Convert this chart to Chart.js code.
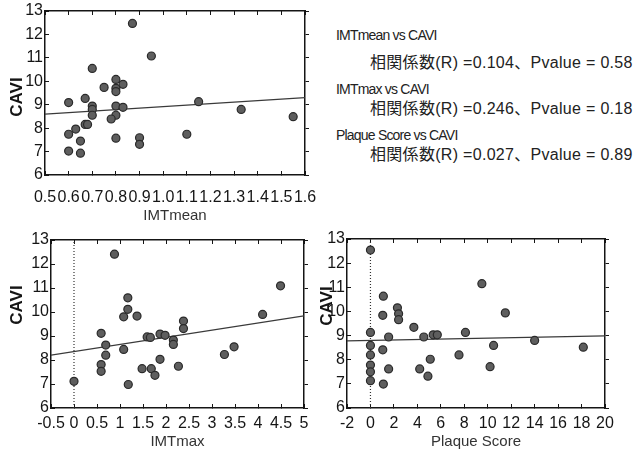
<!DOCTYPE html>
<html>
<head>
<meta charset="utf-8">
<script src="https://cdn.jsdelivr.net/npm/chart.js@4.4.1/dist/chart.umd.min.js"></script>
<style>
  body { margin: 0; background: #fff; }
  .box { position: absolute; }
  .note { position: absolute; white-space: nowrap; color: #222; line-height: 20px;
          font-family: "Liberation Sans", "Noto Sans CJK JP", sans-serif; }
  .head { font-size: 14px; letter-spacing: -0.8px; }
  .stat { font-size: 16px; letter-spacing: 0.3px; }
</style>
</head>
<body>
<div class="box" style="left:0;top:0"><canvas id="meanChart" width="320" height="230"></canvas></div>
<div class="box" style="left:0;top:228px"><canvas id="maxChart" width="320" height="229"></canvas></div>
<div class="box" style="left:310px;top:228px"><canvas id="plaqueChart" width="326" height="229"></canvas></div>

<div class="note head" style="left:336px;top:25px">IMTmean vs CAVI</div>
<div class="note stat" style="left:370px;top:53px">相関係数(R) =0.104、Pvalue = 0.58</div>
<div class="note head" style="left:336px;top:79px">IMTmax vs CAVI</div>
<div class="note stat" style="left:370px;top:99px">相関係数(R) =0.246、Pvalue = 0.18</div>
<div class="note head" style="left:336px;top:125px">Plaque Score vs CAVI</div>
<div class="note stat" style="left:370px;top:145px">相関係数(R) =0.027、Pvalue = 0.89</div>

<script>
// IMTmean vs CAVI
var imtMean = [0.87, 0.95, 0.70, 0.80, 0.75, 0.83, 0.80, 0.80, 0.67, 0.60, 1.15, 0.70, 0.70, 0.80, 0.83, 1.33,
  0.70, 0.80, 0.78, 1.55, 0.67, 0.68, 0.63, 0.60, 1.10, 0.80, 0.90, 0.90, 0.65, 0.60, 0.65];
var caviMean = [12.47, 11.08, 10.55, 10.08, 9.74, 9.87, 9.70, 9.56, 9.27, 9.09, 9.13, 8.94, 8.80, 8.94, 8.89, 8.80,
  8.55, 8.55, 8.39, 8.49, 8.16, 8.16, 7.96, 7.74, 7.74, 7.57, 7.59, 7.31, 7.45, 7.02, 6.93];
var fitMeanX = [0.5, 1.6];
var fitMeanY = [8.60, 9.30];

// IMTmax vs CAVI
var imtMax = [0.88, 4.49, 1.17, 1.17, 1.08, 1.37, 4.10, 2.38, 2.38, 0.59, 1.59, 1.66, 1.87, 1.98, 2.16,
  2.16, 0.69, 3.48, 1.08, 0.69, 3.27, 1.87, 0.59, 2.27, 1.48, 1.68, 0.59, 1.76, 0.0, 1.18];
var caviMax = [12.41, 11.09, 10.59, 10.11, 9.80, 9.83, 9.90, 9.62, 9.31, 9.11, 8.96, 8.94, 9.08, 9.03, 8.83,
  8.65, 8.62, 8.55, 8.44, 8.20, 8.23, 8.03, 7.81, 7.74, 7.64, 7.64, 7.53, 7.36, 7.11, 6.98];
var fitMaxX = [-0.5, 5];
var fitMaxY = [8.20, 9.84];

// Plaque Score vs CAVI
var plaque = [0, 9.5, 1.1, 2.3, 2.4, 2.4, 1.05, 11.5, 3.7, 0, 8.1, 1.55, 4.55, 5.35, 5.7, 14.0,
  0, 10.5, 18.15, 1.05, 0, 7.55, 5.1, 0, 10.2, 1.55, 4.2, 0, 4.9, 0, 1.1];
var caviPlaque = [12.54, 11.15, 10.63, 10.15, 9.90, 9.66, 9.84, 9.94, 9.34, 9.13, 9.13, 8.94, 8.94, 9.03, 9.03, 8.80,
  8.59, 8.59, 8.52, 8.41, 8.20, 8.20, 8.02, 7.78, 7.71, 7.62, 7.62, 7.50, 7.32, 7.13, 6.99];
var fitPlaqueX = [-2, 20];
var fitPlaqueY = [8.78, 8.99];

// dotted reference line at x = 0
var zeroX = [0, 0];
var zeroY = [6, 13];

// ticks
var caviTicks = [6, 7, 8, 9, 10, 11, 12, 13];
var meanTicks = [0.5, 0.6, 0.7, 0.8, 0.9, 1.0, 1.1, 1.2, 1.3, 1.4, 1.5, 1.6];
var meanLabels = ['0.5', '0.6', '0.7', '0.8', '0.9', '1.0', '1.1', '1.2', '1.3', '1.4', '1.5', '1.6'];
var maxTicks = [-0.5, 0, 0.5, 1, 1.5, 2, 2.5, 3, 3.5, 4, 4.5, 5];
var maxLabels = ['-0.5', '0', '0.5', '1', '1.5', '2', '2.5', '3', '3.5', '4', '4.5', '5'];
var plaqueTicks = [-2, 0, 2, 4, 6, 8, 10, 12, 14, 16, 18, 20];
var plaqueLabels = ['-2', '0', '2', '4', '6', '8', '10', '12', '14', '16', '18', '20'];

var FONT = '"Liberation Sans", Arial, sans-serif';
var INK = '#151515';

function pairs(xs, ys) {
  return xs.map(function (x, i) { return {x: x, y: ys[i]}; });
}

// rotated "CAVI" label placed where the scan has it
var sideTitle = {
  id: 'sideTitle',
  afterDraw: function (chart, args, opts) {
    var ctx = chart.ctx;
    ctx.save();
    ctx.translate(opts.x, opts.y);
    ctx.rotate(-Math.PI / 2);
    ctx.font = 'bold 17px ' + FONT;
    ctx.fillStyle = INK;
    ctx.textAlign = 'center';
    ctx.textBaseline = 'middle';
    ctx.fillText(opts.text, 0, 0);
    ctx.restore();
  }
};

function makeChart(id, c) {
  var datasets = [{
    data: pairs(c.xs, c.ys),
    pointRadius: 4,
    pointBackgroundColor: '#5e5e5e',
    pointBorderColor: '#2a2a2a',
    pointBorderWidth: 1.2
  }, {
    data: pairs(c.fitX, c.fitY),
    showLine: true,
    pointRadius: 0,
    borderColor: '#3a3a3a',
    borderWidth: 1.2
  }];
  if (c.zero) {
    datasets.push({
      data: pairs(zeroX, zeroY),
      showLine: true,
      pointRadius: 0,
      borderColor: '#333',
      borderWidth: 1.2,
      borderDash: [1, 2]
    });
  }
  var setTicks = function (list) {
    return function (scale) { scale.ticks = list.map(function (v) { return {value: v}; }); };
  };
  // fixed axis sizes, and no extra inset for labels hanging past the ends
  var fixX = function (h) {
    return function (s) { s.height = h; s.paddingLeft = 0; s.paddingRight = 0; };
  };
  var fixY = function (w) {
    return function (s) { s.width = w; s.paddingTop = 0; s.paddingBottom = 0; };
  };
  return new Chart(document.getElementById(id), {
    type: 'scatter',
    data: {datasets: datasets},
    plugins: [sideTitle],
    options: {
      responsive: false,
      animation: false,
      layout: {padding: c.pad},
      plugins: {
        legend: {display: false},
        tooltip: {enabled: false},
        sideTitle: {text: 'CAVI', x: c.titleX, y: c.titleY}
      },
      scales: {
        x: {
          type: 'linear', position: 'bottom', min: c.min, max: c.max,
          afterBuildTicks: setTicks(c.ticks),
          afterFit: fixX(c.xHeight),
          ticks: {
            autoSkip: false, maxRotation: 0, padding: c.labelPad, color: INK,
            font: {family: FONT, size: 16},
            callback: function (v, i) { return c.labels[i]; }
          },
          grid: {drawOnChartArea: false, tickLength: -4, color: INK},
          border: {color: INK, width: 1.5},
          title: {display: true, text: c.xTitle, color: '#333',
                  font: {family: FONT, size: 15}, padding: {top: 0, bottom: c.xTitlePad}}
        },
        x2: {
          type: 'linear', position: 'top', min: c.min, max: c.max,
          afterBuildTicks: setTicks(c.ticks),
          afterFit: fixX(0),
          ticks: {display: false},
          grid: {drawOnChartArea: false, tickLength: -4, color: INK},
          border: {color: INK, width: 1.5}
        },
        y: {
          type: 'linear', position: 'left', min: 6, max: 13,
          afterBuildTicks: setTicks(caviTicks),
          afterFit: fixY(c.yWidth),
          ticks: {padding: 6, color: INK, font: {family: FONT, size: 16}},
          grid: {drawOnChartArea: false, tickLength: -4, color: INK},
          border: {color: INK, width: 1.5}
        },
        y2: {
          type: 'linear', position: 'right', min: 6, max: 13,
          afterBuildTicks: setTicks(caviTicks),
          afterFit: fixY(0),
          ticks: {display: false},
          grid: {drawOnChartArea: false, tickLength: 4, color: INK},
          border: {color: INK, width: 1.5}
        }
      }
    }
  });
}

document.addEventListener('DOMContentLoaded', function () {
  makeChart('meanChart', {
    xs: imtMean, ys: caviMean, fitX: fitMeanX, fitY: fitMeanY, zero: false,
    min: 0.5, max: 1.6, ticks: meanTicks, labels: meanLabels, xTitle: 'IMTmean',
    pad: {left: 0, top: 11, right: 15, bottom: 0}, xHeight: 55, yWidth: 45, xTitlePad: 5,
    labelPad: 17, titleX: 17, titleY: 97
  });
  makeChart('maxChart', {
    xs: imtMax, ys: caviMax, fitX: fitMaxX, fitY: fitMaxY, zero: true,
    min: -0.5, max: 5, ticks: maxTicks, labels: maxLabels, xTitle: 'IMTmax',
    pad: {left: 0, top: 12, right: 16, bottom: 0}, xHeight: 49, yWidth: 51, xTitlePad: 6,
    labelPad: 10, titleX: 17, titleY: 77
  });
  makeChart('plaqueChart', {
    xs: plaque, ys: caviPlaque, fitX: fitPlaqueX, fitY: fitPlaqueY, zero: true,
    min: -2, max: 20, ticks: plaqueTicks, labels: plaqueLabels, xTitle: 'Plaque Score',
    pad: {left: 0, top: 11, right: 31, bottom: 0}, xHeight: 49, yWidth: 37, xTitlePad: 6,
    labelPad: 10, titleX: 17, titleY: 78
  });
});
</script>
</body>
</html>
